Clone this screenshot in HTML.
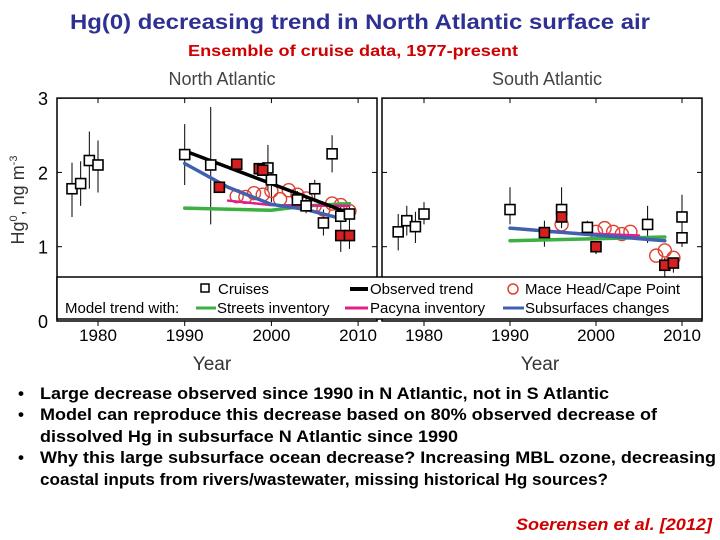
<!DOCTYPE html>
<html><head><meta charset="utf-8"><style>
body{margin:0;background:#fff;width:720px;height:540px;overflow:hidden}
svg{display:block}
.t{font-family:"Liberation Sans Narrow","Liberation Sans",sans-serif;font-weight:bold}
.ax{font-family:"Liberation Sans",sans-serif}
</style></head><body>
<svg id="s" width="720" height="540" xmlns="http://www.w3.org/2000/svg">
<text class="t" x="360" y="29" text-anchor="middle" font-size="21" fill="#2e3192" textLength="580" lengthAdjust="spacingAndGlyphs">Hg(0) decreasing trend in North Atlantic surface air</text>
<text class="t" x="353" y="56" text-anchor="middle" font-size="16" fill="#d00000" textLength="330" lengthAdjust="spacingAndGlyphs">Ensemble of cruise data, 1977-present</text>
<text class="ax" x="222" y="85" text-anchor="middle" font-size="18" fill="#444">North Atlantic</text>
<text class="ax" x="547" y="85" text-anchor="middle" font-size="18" fill="#444">South Atlantic</text>
<g id="plot"></g>
<g class="t" font-size="17" fill="#000">
<text x="18" y="399">•</text><text x="40" y="399" textLength="569" lengthAdjust="spacingAndGlyphs">Large decrease observed since 1990 in N Atlantic, not in S Atlantic</text>
<text x="18" y="420">•</text><text x="40" y="420" textLength="617" lengthAdjust="spacingAndGlyphs">Model can reproduce this decrease based on 80% observed decrease of</text>
<text x="40" y="442" textLength="418" lengthAdjust="spacingAndGlyphs">dissolved Hg in subsurface N Atlantic since 1990</text>
<text x="18" y="463">•</text><text x="40" y="463" textLength="676" lengthAdjust="spacingAndGlyphs">Why this large subsurface ocean decrease? Increasing MBL ozone, decreasing</text>
<text x="40" y="485" textLength="568" lengthAdjust="spacingAndGlyphs">coastal inputs from rivers/wastewater, missing historical Hg sources?</text>
</g>
<text class="t" x="712" y="530" text-anchor="end" font-size="17" font-style="italic" fill="#d00000" textLength="196" lengthAdjust="spacingAndGlyphs">Soerensen et al. [2012]</text>
</svg>
<script>
// North Atlantic data
const naCruiseYears=[1977,1978,1979,1980,1990,1993,1999.6,2000,2003,2004,2005,2006,2007,2008,2009];
const naCruiseVals=[1.78,1.85,2.16,2.1,2.24,2.1,2.06,1.9,1.63,1.55,1.78,1.32,2.25,1.41,1.44];
const naCruiseLo=[1.4,1.55,1.78,1.73,1.83,1.3,1.75,1.6,1.5,1.45,1.6,1.15,2.0,0.93,0.97];
const naCruiseHi=[2.13,2.15,2.55,2.43,2.65,2.88,2.37,2.0,1.75,1.65,1.9,1.5,2.5,1.6,1.6];
const naRedYears=[1994,1996,1998.6,1999,2008,2009];
const naRedVals=[1.8,2.11,2.05,2.03,1.15,1.15];
const naCircYears=[1996,1997,1998,1999,2000,2001,2002,2003,2004,2005,2006,2007,2008,2009];
const naCircVals=[1.68,1.67,1.72,1.7,1.75,1.64,1.76,1.7,1.65,1.55,1.5,1.58,1.56,1.48];
const naObsYears=[1990,2009];const naObsVals=[2.29,1.45];
const naBlueYears=[1990,1995,2000,2004,2008];const naBlueVals=[2.12,1.8,1.57,1.5,1.38];
const naGreenYears=[1990,2000,2004,2009];const naGreenVals=[1.52,1.49,1.55,1.58];
const naPinkYears=[1995,2000,2009];const naPinkVals=[1.62,1.56,1.55];
// South Atlantic data
const saCruiseYears=[1977,1978,1979,1980,1990,1996,1999,2006,2010,2010];
const saCruiseVals=[1.2,1.35,1.27,1.44,1.5,1.5,1.26,1.3,1.4,1.12];
const saCruiseLo=[0.95,1.15,1.05,1.3,1.3,1.25,1.2,1.05,1.0,1.0];
const saCruiseHi=[1.44,1.55,1.47,1.6,1.8,1.8,1.35,1.55,1.7,1.3];
const saRedYears=[1994,1996,2000,2008,2009];
const saRedVals=[1.19,1.4,1.0,0.75,0.78];
const saRedLo=[1.0,1.3,0.9,0.6,0.65];const saRedHi=[1.35,1.5,1.0,0.85,0.85];
const saCircYears=[1996,2000,2001,2002,2003,2004,2007,2008,2009];
const saCircVals=[1.3,1.2,1.25,1.2,1.17,1.2,0.88,0.95,0.85];
const saBlueYears=[1990,2008];const saBlueVals=[1.25,1.08];
const saGreenYears=[1990,2008];const saGreenVals=[1.08,1.13];
const saPinkYears=[1994,2005];const saPinkVals=[1.2,1.15];
const yTicks=[0,1,2,3];const xTicks=[1980,1990,2000,2010];

const NS='http://www.w3.org/2000/svg';
const g=document.getElementById('plot');
function el(t,a,p){const e=document.createElementNS(NS,t);for(const k in a)e.setAttribute(k,a[k]);(p||g).appendChild(e);return e;}
const Y=v=>321-v*74.3;
function panel(x0,x1,x1980,xs,name){
  const X=yr=>x1980+(yr-1980)*xs;
  const p=el('g',{});
  
  
  const f=el('rect',{x:x0,y:Y(3),width:x1-x0,height:Y(0)-Y(3),fill:'none',stroke:'#000','stroke-width':1.5},p);
  
  
  yTicks.forEach(v=>{el('line',{x1:x0,x2:x0+5,y1:Y(v),y2:Y(v),stroke:'#000'},p);el('line',{x1:x1,x2:x1-5,y1:Y(v),y2:Y(v),stroke:'#000'},p);});
  xTicks.forEach(t=>{el('line',{x1:X(t),x2:X(t),y1:Y(3),y2:Y(3)+5,stroke:'#000'},p);el('line',{x1:X(t),x2:X(t),y1:Y(0),y2:Y(0)+5,stroke:'#000'},p);
    const tx=el('text',{x:X(t),y:341,'text-anchor':'middle','font-size':17,class:'ax'},p);tx.textContent=t;
    
    });
  return {X,p};
}
function line(P,ys,vs,c,w,name){const l=el('polyline',{points:ys.map((y,i)=>P.X(y)+','+Y(vs[i])).join(' '),fill:'none',stroke:c,'stroke-width':w,'stroke-linecap':'round'},P.p);
  
  }
function draw(P,cy,cv,lo,hi,ry,rv,rlo,rhi,ky,kv,lines,pre){
  cy.forEach((y,i)=>el('line',{x1:P.X(y),x2:P.X(y),y1:Y(lo[i]),y2:Y(hi[i]),stroke:'#000'},P.p));
  if(rlo)ry.forEach((y,i)=>el('line',{x1:P.X(y),x2:P.X(y),y1:Y(rlo[i]),y2:Y(rhi[i]),stroke:'#000'},P.p));
  ky.forEach((y,i)=>{const c=el('circle',{cx:P.X(y),cy:Y(kv[i]),r:6.5,fill:'none',stroke:'#e04030','stroke-width':1.4},P.p);
    
    });
  lines.forEach(l=>line(P,l[0],l[1],l[2],l[3],l[4]));
  cy.forEach((y,i)=>{const r=el('rect',{x:P.X(y)-5,y:Y(cv[i])-5,width:10,height:10,fill:'#fff',stroke:'#000','stroke-width':1.6},P.p);
    
    });
  ry.forEach((y,i)=>{const r=el('rect',{x:P.X(y)-5,y:Y(rv[i])-5,width:10,height:10,fill:'#d62020',stroke:'#000','stroke-width':1.6},P.p);
    
    });
}
const N=panel(57,377,98,8.67,'north-atlantic-panel');
draw(N,naCruiseYears,naCruiseVals,naCruiseLo,naCruiseHi,naRedYears,naRedVals,null,null,naCircYears,naCircVals,
 [[naGreenYears,naGreenVals,'#3cb043',3.5,'na-streets-line'],[naPinkYears,naPinkVals,'#e0208a',2.5,'na-pacyna-line'],[naBlueYears,naBlueVals,'#4060b0',3.5,'na-subsurface-line'],[naObsYears,naObsVals,'#000',3.5,'na-observed-trend']],'na');
const S=panel(382,702,424,8.6,'south-atlantic-panel');
draw(S,saCruiseYears,saCruiseVals,saCruiseLo,saCruiseHi,saRedYears,saRedVals,saRedLo,saRedHi,saCircYears,saCircVals,
 [[saGreenYears,saGreenVals,'#3cb043',3.5,'sa-streets-line'],[saPinkYears,saPinkVals,'#e0208a',2.5,'sa-pacyna-line'],[saBlueYears,saBlueVals,'#4060b0',3.5,'sa-subsurface-line']],'sa');
yTicks.forEach(v=>{const t=el('text',{x:48,y:Y(v)+7,'text-anchor':'end','font-size':18,class:'ax'});t.textContent=v;
  
  });
// legend
const L=el('g',{});


el('rect',{x:57,y:277,width:645,height:42,fill:'#fff',stroke:'#000','stroke-width':1.5},L);
function lt(x,y,s){const t=el('text',{x:x,y:y,'font-size':15,class:'ax'},L);t.textContent=s;return t;}
el('rect',{x:201,y:284,width:8,height:8,fill:'none',stroke:'#000','stroke-width':1.5},L);lt(218,294,'Cruises');
el('line',{x1:350,x2:368,y1:289,y2:289,stroke:'#000','stroke-width':4},L);lt(370,294,'Observed trend');
el('circle',{cx:513,cy:289,r:5,fill:'none',stroke:'#e04030','stroke-width':1.5},L);lt(525,294,'Mace Head/Cape Point');
lt(65,313,'Model trend with:');
el('line',{x1:196,x2:216,y1:308,y2:308,stroke:'#3cb043','stroke-width':3},L);lt(217,313,'Streets inventory');
el('line',{x1:345,x2:368,y1:308,y2:308,stroke:'#e0208a','stroke-width':3},L);lt(370,313,'Pacyna inventory');
el('line',{x1:503,x2:524,y1:308,y2:308,stroke:'#4060b0','stroke-width':3},L);lt(525,313,'Subsurfaces changes');
const yl=el('text',{x:0,y:0,'font-size':18,class:'ax',fill:'#333',transform:'translate(24,200) rotate(-90)','text-anchor':'middle'});
yl.innerHTML='Hg<tspan dy="-7" font-size="11">0</tspan><tspan dy="7">, ng m</tspan><tspan dy="-7" font-size="11">-3</tspan>';


[[212,'x-axis-title-north'],[540,'x-axis-title-south']].forEach(a=>{const t=el('text',{x:a[0],y:370,'text-anchor':'middle','font-size':19,class:'ax',fill:'#333'});t.textContent='Year';
  
  });
</script>
</body></html>
